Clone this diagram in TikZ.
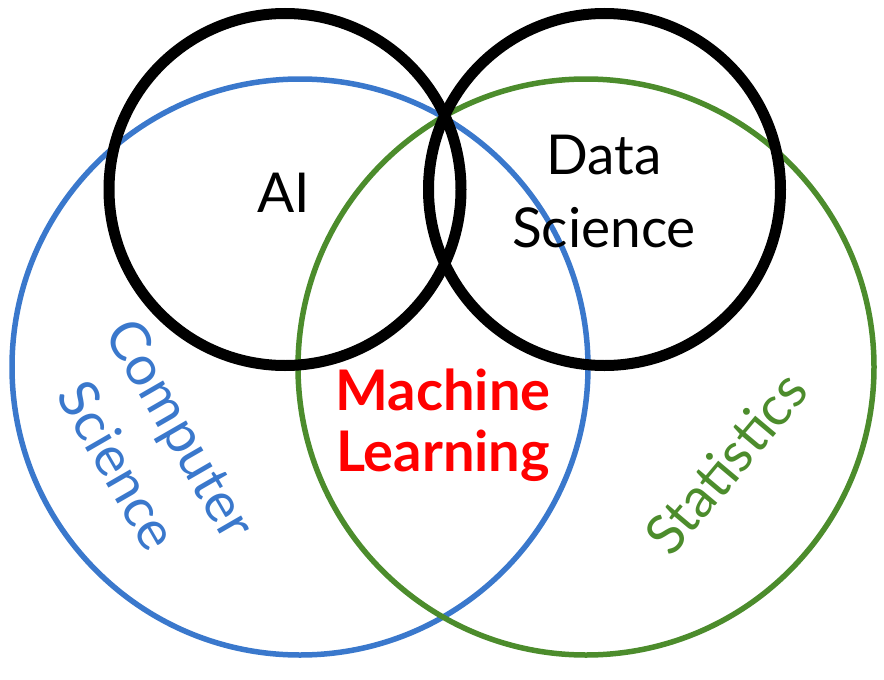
\documentclass[tikz,border=0pt]{standalone}
\usepackage{fontspec}
\setmainfont{Lato}
\usepackage{tikz}
\definecolor{csblue}{HTML}{3A78CC}
\definecolor{statgreen}{HTML}{4C8C2C}
\definecolor{mlred}{HTML}{FF0000}

\begin{document}
\begin{tikzpicture}[x=1pt, y=-1pt,
  ring/.style={line width=5.5pt},
  bigring/.style={line width=11pt, draw=black},
  lab/.style={inner sep=0pt, align=center, font=\fontsize{55}{73}\selectfont},
  mllab/.style={inner sep=0pt, align=center, text=mlred,
                font=\fontsize{56}{61}\selectfont\bfseries}]
\useasboundingbox (0,0) rectangle (884,680);
% the two fields
\draw[ring, draw=csblue] (300,367) circle[radius=288];
\draw[ring, draw=statgreen] (586,367) circle[radius=288];
% the two hot topics
\draw[bigring] (285,189.5) circle[radius=176];
\draw[bigring] (604.5,189.5) circle[radius=176];
% labels
\node[lab, anchor=base] (ai) at (284,212) {AI};
\node[lab] (ds) at (604,192) {Data\\Science};
\node[mllab] (ml) at (443,425) {Machine\\Learning};
\node[lab, text=csblue, rotate=-60] (cs) at (150,447) {Computer\\Science};
\node[lab, text=statgreen, rotate=50] (st) at (726,463) {Statistics};
\end{tikzpicture}
\end{document}
